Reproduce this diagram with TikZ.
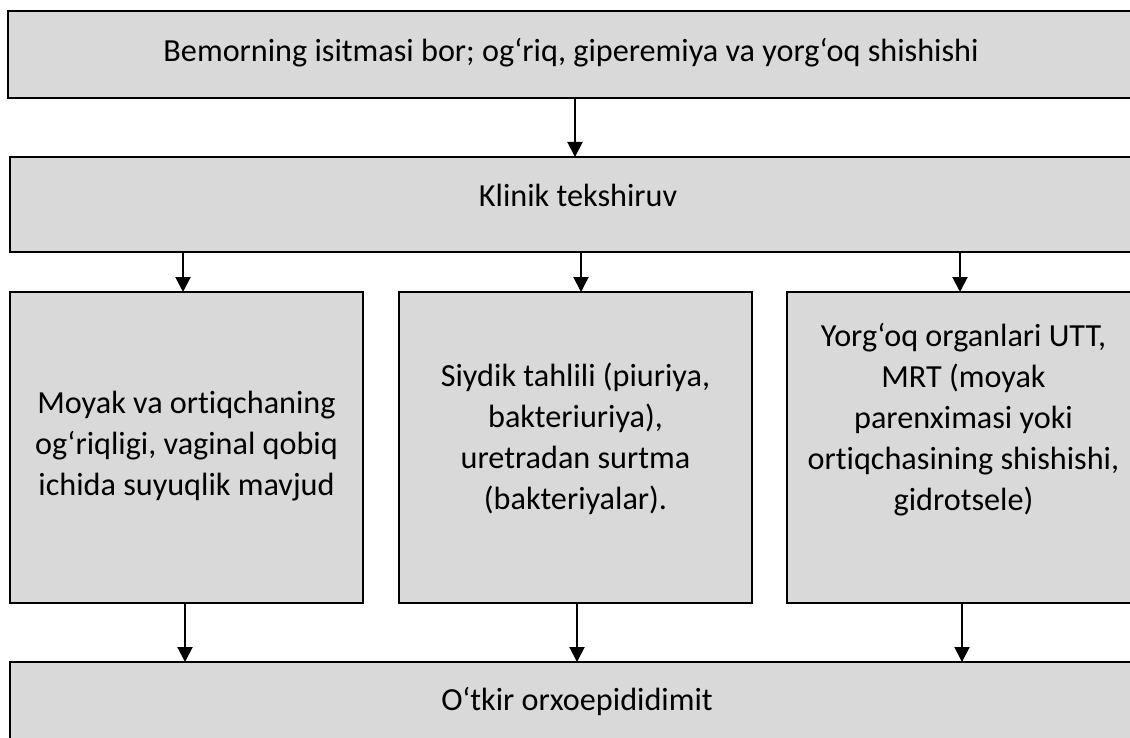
\documentclass[tikz,border=0pt]{standalone}
\usepackage{fontspec}
\setmainfont{Carlito}[Ligatures={NoCommon}]
\usetikzlibrary{arrows.meta}
\definecolor{boxgray}{HTML}{D9D9D9}
\begin{document}
\begin{tikzpicture}[x=1pt,y=-1pt,
  box/.style={draw=black, line width=2.5pt, fill=boxgray, rectangle, inner sep=0pt, outer sep=0pt},
  txt/.style={font=\fontsize{32.2}{41}\selectfont, align=center, inner sep=0pt},
  arr/.style={draw=black, line width=2pt, -{Triangle[length=15pt,width=15pt]}}]
\useasboundingbox (0,0) rectangle (1130,738);
\clip (0,0) rectangle (1130,738);
% boxes
\node[box, minimum width=1137pt, minimum height=87pt] (top) at (576.5,54.5) {};
\node[box, minimum width=1135pt, minimum height=95pt] (klin) at (577.5,204.5) {};
\node[box, minimum width=353pt, minimum height=311pt] (left) at (186.5,447.5) {};
\node[box, minimum width=353pt, minimum height=311pt] (mid) at (575.5,447.5) {};
\node[box, minimum width=353pt, minimum height=311pt] (right) at (963.5,447.5) {};
\node[box, minimum width=1135pt, minimum height=98pt] (bot) at (577.5,711) {};
% texts
\node[txt, anchor=base] (ttop) at (571,62) {Bemorning isitmasi bor; og‘riq, giperemiya va yorg‘oq shishishi};
\node[txt, anchor=base] (tklin) at (578,207) {Klinik tekshiruv};
\node[txt] (tleft) at (186.5,446) {Moyak va ortiqchaning\\og‘riqligi, vaginal qobiq\\ichida suyuqlik mavjud};
\node[txt] (tmid) at (575.5,439) {Siydik tahlili (piuriya,\\bakteriuriya),\\uretradan surtma\\(bakteriyalar).};
\node[txt] (tright) at (963.5,419.5) {Yorg‘oq organlari UTT,\\MRT (moyak\\parenximasi yoki\\ortiqchasining shishishi,\\gidrotsele)};
\node[txt, anchor=base] (tbot) at (577,710) {O‘tkir orxoepididimit};
% arrow x positions
\coordinate (a0) at (575,0);
\coordinate (a1) at (183,0);
\coordinate (a2) at (581,0);
\coordinate (a3) at (960,0);
\coordinate (b1) at (185,0);
\coordinate (b2) at (577,0);
\coordinate (b3) at (962,0);
% connectors
\draw[arr] (top.south -| a0) -- (klin.north -| a0);
\draw[arr] (klin.south -| a1) -- (left.north -| a1);
\draw[arr] (klin.south -| a2) -- (mid.north -| a2);
\draw[arr] (klin.south -| a3) -- (right.north -| a3);
\draw[arr] (left.south -| b1) -- (bot.north -| b1);
\draw[arr] (mid.south -| b2) -- (bot.north -| b2);
\draw[arr] (right.south -| b3) -- (bot.north -| b3);
\end{tikzpicture}
\end{document}
